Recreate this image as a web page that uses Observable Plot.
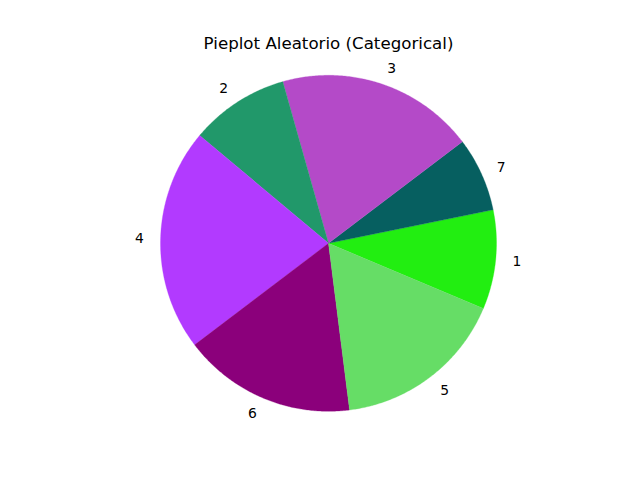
<!DOCTYPE html>
<html>
<head>
<meta charset="utf-8">
<script src="https://cdn.jsdelivr.net/npm/d3@7"></script>
<script src="https://cdn.jsdelivr.net/npm/@observablehq/plot@0.6"></script>
<style>
  html, body { margin: 0; padding: 0; background: #fff; }
</style>
</head>
<body>
<div id="chart"></div>
<script>
const title = "Pieplot Aleatorio (Categorical)";
const labels = ["1", "7", "3", "2", "4", "6", "5"];
const values = [4, 3, 8, 4, 9, 7, 7];
const colors = ["#22ee11", "#065f60", "#b44ac8", "#21986a", "#b23aff", "#8b007b", "#66dd66"];
const startAngle = -22.8; // degrees, counterclockwise from 3 o'clock
const labelDistance = 1.1;

const total = d3.sum(values);
let acc = startAngle;
const slices = labels.map((label, i) => {
  const a0 = acc;
  const a1 = acc + values[i] / total * 360;
  acc = a1;
  return {label, value: values[i], a0, a1, mid: (a0 + a1) / 2};
});

const rad = d => d * Math.PI / 180;
const polyPts = [];
for (const s of slices) {
  polyPts.push({label: s.label, x: 0, y: 0});
  const n = Math.max(2, Math.ceil((s.a1 - s.a0) * 2));
  for (let k = 0; k <= n; k++) {
    const a = rad(s.a0 + (s.a1 - s.a0) * k / n);
    polyPts.push({label: s.label, x: Math.cos(a), y: Math.sin(a)});
  }
  polyPts.push({label: s.label, x: 0, y: 0});
}

const labelPts = slices.map(s => ({
  label: s.label,
  x: labelDistance * Math.cos(rad(s.mid)),
  y: labelDistance * Math.sin(rad(s.mid))
}));

const chart = Plot.plot({
  width: 640,
  height: 480,
  margin: 0,
  style: {fontFamily: "DejaVu Sans", fontSize: "13.89px", background: "#fff", color: "#000"},
  x: {domain: [-1, 1], range: [160, 496], axis: null},
  y: {domain: [-1, 1], range: [410.8, 74.8], axis: null},
  color: {domain: labels, range: colors},
  marks: [
    Plot.line(polyPts, {x: "x", y: "y", z: "label", fill: "label", stroke: "label", strokeWidth: 0.3, curve: "linear"}),
    Plot.text(labelPts.filter(d => d.x >= 0), {x: "x", y: "y", text: "label", textAnchor: "start", fill: "#000"}),
    Plot.text(labelPts.filter(d => d.x < 0), {x: "x", y: "y", text: "label", textAnchor: "end", fill: "#000"}),
    Plot.text([title], {frameAnchor: "top", text: d => d, dx: 8, dy: 37, fontSize: 16.67, fill: "#000"})
  ]
});
document.getElementById("chart").appendChild(chart);
</script>
</body>
</html>
